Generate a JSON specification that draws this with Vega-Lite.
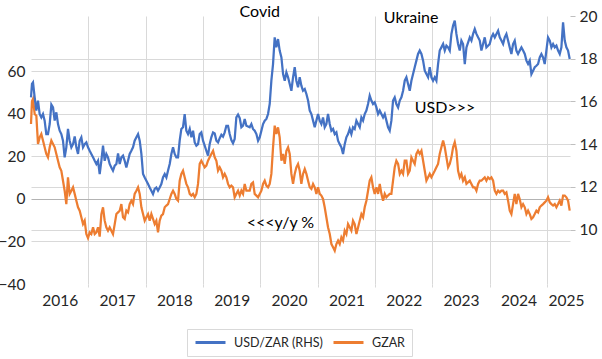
{
"$schema": "https://vega.github.io/schema/vega-lite/v6.json",
"width": 539, "height": 268,
"autosize": {"type": "none"},
"padding": {"left": 31, "top": 16, "right": 32, "bottom": 75},
"background": "white",
"config": {"view": {"stroke": null}, "font": "Lato", "text": {"font": "Lato"}},
"data": {"values": [
{"t":2016.000,"u":16.19,"g":35.3},{"t":2016.017,"u":16.82,"g":46.0},{"t":2016.035,"u":16.89,"g":47.1},{"t":2016.064,"u":16.19,"g":40.0},{"t":2016.093,"u":15.57,"g":39.2},{"t":2016.122,"u":16.04,"g":25.9},{"t":2016.151,"u":15.41,"g":29.0},{"t":2016.180,"u":15.25,"g":30.6},{"t":2016.209,"u":15.41,"g":27.5},{"t":2016.238,"u":15.10,"g":24.3},
{"t":2016.267,"u":14.47,"g":21.2},{"t":2016.296,"u":14.47,"g":19.6},{"t":2016.326,"u":14.94,"g":24.3},{"t":2016.355,"u":15.85,"g":27.5},{"t":2016.384,"u":15.72,"g":25.9},{"t":2016.413,"u":15.10,"g":24.3},{"t":2016.442,"u":15.49,"g":21.2},{"t":2016.471,"u":14.94,"g":18.0},{"t":2016.500,"u":14.63,"g":14.9},{"t":2016.529,"u":14.47,"g":13.3},
{"t":2016.558,"u":14.16,"g":8.6},{"t":2016.587,"u":13.38,"g":3.9},{"t":2016.616,"u":13.85,"g":-2.4},{"t":2016.645,"u":14.71,"g":10.2},{"t":2016.674,"u":14.16,"g":2.4},{"t":2016.704,"u":13.85,"g":3.9},{"t":2016.733,"u":14.00,"g":5.5},{"t":2016.762,"u":14.36,"g":2.4},{"t":2016.791,"u":13.85,"g":-0.8},{"t":2016.820,"u":13.54,"g":-3.9},
{"t":2016.849,"u":14.16,"g":-5.5},{"t":2016.878,"u":14.32,"g":-8.6},{"t":2016.907,"u":13.85,"g":-11.8},{"t":2016.936,"u":14.00,"g":-10.2},{"t":2016.965,"u":14.08,"g":-16.5},{"t":2016.994,"u":13.85,"g":-18.4},{"t":2017.023,"u":13.69,"g":-15.7},{"t":2017.052,"u":13.54,"g":-16.5},{"t":2017.082,"u":13.38,"g":-13.3},{"t":2017.111,"u":13.22,"g":-16.5},
{"t":2017.140,"u":13.07,"g":-15.7},{"t":2017.169,"u":13.22,"g":-13.3},{"t":2017.198,"u":12.60,"g":-17.7},{"t":2017.227,"u":13.22,"g":-7.1},{"t":2017.256,"u":13.93,"g":-3.9},{"t":2017.285,"u":13.22,"g":-10.2},{"t":2017.314,"u":13.54,"g":-13.3},{"t":2017.343,"u":13.38,"g":-14.9},{"t":2017.372,"u":13.07,"g":-13.3},{"t":2017.401,"u":12.91,"g":-14.9},
{"t":2017.430,"u":12.76,"g":-16.5},{"t":2017.460,"u":12.99,"g":-11.8},{"t":2017.489,"u":13.07,"g":-7.1},{"t":2017.518,"u":13.57,"g":-6.3},{"t":2017.547,"u":13.07,"g":-5.5},{"t":2017.576,"u":13.38,"g":-2.4},{"t":2017.605,"u":13.46,"g":-8.6},{"t":2017.634,"u":13.22,"g":-9.4},{"t":2017.663,"u":12.91,"g":-5.5},{"t":2017.692,"u":13.22,"g":-6.3},
{"t":2017.721,"u":13.54,"g":-2.4},{"t":2017.750,"u":13.69,"g":-0.8},{"t":2017.779,"u":13.85,"g":-2.4},{"t":2017.808,"u":14.16,"g":2.4},{"t":2017.838,"u":14.32,"g":3.9},{"t":2017.867,"u":14.47,"g":5.5},{"t":2017.896,"u":14.16,"g":2.4},
{"t":2017.925,"u":13.54,"g":-3.9},{"t":2017.954,"u":12.60,"g":-7.1},{"t":2017.983,"u":12.44,"g":-10.2},{"t":2018.012,"u":12.29,"g":-8.6},{"t":2018.041,"u":12.13,"g":-7.1},{"t":2018.070,"u":11.97,"g":-10.2},{"t":2018.099,"u":11.82,"g":-7.1},{"t":2018.128,"u":11.66,"g":-9.4},{"t":2018.157,"u":11.90,"g":-11.8},{"t":2018.186,"u":11.97,"g":-10.2},
{"t":2018.215,"u":11.82,"g":-15.7},{"t":2018.244,"u":11.97,"g":-10.2},{"t":2018.273,"u":12.13,"g":-7.8},{"t":2018.302,"u":12.44,"g":-7.1},{"t":2018.332,"u":12.60,"g":-3.9},{"t":2018.361,"u":12.44,"g":-3.1},{"t":2018.390,"u":12.76,"g":-2.4},{"t":2018.419,"u":13.07,"g":0.0},{"t":2018.448,"u":13.54,"g":2.4},{"t":2018.477,"u":13.85,"g":3.9},
{"t":2018.506,"u":13.54,"g":2.4},{"t":2018.535,"u":13.38,"g":0.0},{"t":2018.564,"u":13.38,"g":-0.8},{"t":2018.593,"u":14.16,"g":8.6},{"t":2018.622,"u":14.71,"g":11.8},{"t":2018.651,"u":14.79,"g":13.3},{"t":2018.680,"u":15.41,"g":10.2},{"t":2018.709,"u":14.63,"g":7.1},{"t":2018.738,"u":14.47,"g":5.5},{"t":2018.768,"u":14.71,"g":2.4},
{"t":2018.797,"u":14.32,"g":1.6},{"t":2018.826,"u":14.63,"g":2.4},{"t":2018.855,"u":14.08,"g":0.8},{"t":2018.884,"u":13.93,"g":2.4},{"t":2018.913,"u":14.00,"g":7.1},{"t":2018.942,"u":14.47,"g":16.5},{"t":2018.971,"u":14.55,"g":18.0},{"t":2019.000,"u":14.16,"g":16.5},{"t":2019.029,"u":13.93,"g":14.9},{"t":2019.058,"u":13.69,"g":15.7},
{"t":2019.087,"u":13.46,"g":18.0},{"t":2019.116,"u":14.00,"g":19.6},{"t":2019.145,"u":14.32,"g":21.2},{"t":2019.175,"u":14.55,"g":22.7},{"t":2019.204,"u":14.50,"g":19.6},{"t":2019.233,"u":14.16,"g":18.0},{"t":2019.262,"u":14.08,"g":13.3},{"t":2019.291,"u":14.28,"g":14.9},{"t":2019.320,"u":14.44,"g":13.3},{"t":2019.349,"u":14.35,"g":10.2},
{"t":2019.378,"u":14.55,"g":11.8},{"t":2019.407,"u":14.86,"g":10.2},{"t":2019.436,"u":14.86,"g":7.1},{"t":2019.465,"u":14.47,"g":5.5},{"t":2019.494,"u":14.19,"g":6.3},{"t":2019.523,"u":14.04,"g":5.5},{"t":2019.552,"u":14.24,"g":0.8},{"t":2019.581,"u":15.25,"g":2.4},{"t":2019.611,"u":15.38,"g":3.9},{"t":2019.640,"u":15.22,"g":1.6},
{"t":2019.669,"u":14.79,"g":3.9},{"t":2019.698,"u":14.86,"g":2.4},{"t":2019.727,"u":15.18,"g":7.1},{"t":2019.756,"u":14.86,"g":3.9},
{"t":2019.814,"u":14.79,"g":3.9},{"t":2019.843,"u":14.94,"g":7.1},{"t":2019.872,"u":14.71,"g":7.8},{"t":2019.901,"u":14.63,"g":2.4},{"t":2019.931,"u":14.47,"g":1.6},{"t":2019.960,"u":14.16,"g":0.8},{"t":2019.989,"u":14.32,"g":2.4},{"t":2020.018,"u":14.63,"g":3.9},{"t":2020.047,"u":14.94,"g":7.1},{"t":2020.076,"u":15.10,"g":8.6},
{"t":2020.105,"u":15.18,"g":6.3},{"t":2020.134,"u":15.41,"g":5.5},{"t":2020.163,"u":15.88,"g":7.1},{"t":2020.192,"u":16.97,"g":11.8},{"t":2020.221,"u":17.75,"g":24.3},{"t":2020.250,"u":19.00,"g":34.5},{"t":2020.279,"u":18.53,"g":30.6},{"t":2020.308,"u":18.92,"g":33.7},{"t":2020.337,"u":18.38,"g":29.0},{"t":2020.367,"u":18.06,"g":18.0},
{"t":2020.396,"u":17.28,"g":21.2},{"t":2020.425,"u":16.97,"g":16.5},{"t":2020.454,"u":17.36,"g":22.7},{"t":2020.483,"u":17.13,"g":24.3},{"t":2020.512,"u":16.82,"g":21.2},{"t":2020.541,"u":16.50,"g":11.8},{"t":2020.570,"u":17.13,"g":7.1},{"t":2020.599,"u":17.60,"g":11.8},{"t":2020.628,"u":16.97,"g":14.9},{"t":2020.657,"u":16.66,"g":16.5},
{"t":2020.686,"u":17.13,"g":13.3},{"t":2020.715,"u":16.74,"g":7.1},{"t":2020.744,"u":16.50,"g":11.8},{"t":2020.774,"u":16.58,"g":14.1},{"t":2020.803,"u":16.35,"g":11.8},{"t":2020.832,"u":16.04,"g":8.6},{"t":2020.861,"u":15.57,"g":5.5},{"t":2020.890,"u":15.41,"g":4.7},{"t":2020.919,"u":15.10,"g":7.1},{"t":2020.948,"u":14.79,"g":5.5},
{"t":2020.977,"u":15.10,"g":2.4},{"t":2021.006,"u":15.41,"g":5.5},{"t":2021.035,"u":15.10,"g":2.4},{"t":2021.064,"u":14.94,"g":1.6},{"t":2021.093,"u":15.25,"g":0.0},{"t":2021.122,"u":14.79,"g":-3.9},{"t":2021.151,"u":14.94,"g":-8.6},{"t":2021.180,"u":15.41,"g":-13.3},{"t":2021.210,"u":14.94,"g":-16.5},{"t":2021.239,"u":14.63,"g":-21.2},
{"t":2021.268,"u":14.71,"g":-22.7},{"t":2021.297,"u":14.47,"g":-24.3},{"t":2021.326,"u":14.55,"g":-21.2},{"t":2021.355,"u":14.16,"g":-19.6},{"t":2021.384,"u":14.00,"g":-21.2},{"t":2021.413,"u":13.85,"g":-18.0},{"t":2021.442,"u":13.54,"g":-19.6},{"t":2021.471,"u":14.00,"g":-14.9},{"t":2021.500,"u":14.32,"g":-16.5},{"t":2021.529,"u":14.47,"g":-11.8},
{"t":2021.558,"u":14.71,"g":-13.3},{"t":2021.587,"u":14.47,"g":-14.9},{"t":2021.616,"u":14.79,"g":-10.2},{"t":2021.645,"u":14.71,"g":-11.8},{"t":2021.675,"u":15.10,"g":-16.5},
{"t":2021.733,"u":14.79,"g":-10.2},{"t":2021.762,"u":15.25,"g":-7.1},{"t":2021.791,"u":15.10,"g":-8.6},{"t":2021.820,"u":15.41,"g":-3.9},{"t":2021.849,"u":15.57,"g":-0.8},{"t":2021.878,"u":15.88,"g":3.9},{"t":2021.907,"u":16.27,"g":8.6},{"t":2021.936,"u":16.04,"g":10.2},{"t":2021.965,"u":15.88,"g":5.5},{"t":2021.994,"u":15.96,"g":2.4},
{"t":2022.024,"u":15.72,"g":5.5},{"t":2022.053,"u":15.41,"g":2.4},{"t":2022.082,"u":15.57,"g":7.1},{"t":2022.111,"u":15.41,"g":2.4},{"t":2022.140,"u":15.25,"g":-0.8},{"t":2022.169,"u":15.41,"g":2.4},{"t":2022.198,"u":15.10,"g":0.8},{"t":2022.227,"u":14.79,"g":1.6},{"t":2022.256,"u":14.63,"g":2.4},{"t":2022.285,"u":15.10,"g":2.4},
{"t":2022.314,"u":16.04,"g":8.6},{"t":2022.343,"u":16.19,"g":14.9},{"t":2022.372,"u":15.88,"g":18.0},{"t":2022.402,"u":15.72,"g":16.5},{"t":2022.431,"u":16.04,"g":11.8},{"t":2022.460,"u":16.19,"g":13.3},{"t":2022.489,"u":16.50,"g":11.8},{"t":2022.518,"u":16.97,"g":18.0},{"t":2022.547,"u":17.13,"g":18.0},{"t":2022.576,"u":16.82,"g":11.8},
{"t":2022.605,"u":16.50,"g":13.3},{"t":2022.634,"u":16.97,"g":19.6},{"t":2022.663,"u":17.28,"g":18.0},{"t":2022.692,"u":17.60,"g":16.5},{"t":2022.721,"u":17.91,"g":21.2},{"t":2022.750,"u":18.22,"g":22.7},{"t":2022.779,"u":18.38,"g":21.2},{"t":2022.809,"u":18.22,"g":22.7},{"t":2022.838,"u":17.91,"g":18.0},{"t":2022.867,"u":17.44,"g":13.3},
{"t":2022.896,"u":17.28,"g":8.6},{"t":2022.925,"u":17.13,"g":10.2},{"t":2022.954,"u":17.60,"g":11.8},{"t":2022.983,"u":17.13,"g":10.2},{"t":2023.012,"u":16.97,"g":11.8},{"t":2023.041,"u":17.13,"g":13.3},{"t":2023.070,"u":16.97,"g":14.9},{"t":2023.099,"u":17.75,"g":16.5},{"t":2023.128,"u":18.38,"g":21.2},{"t":2023.157,"u":18.53,"g":24.3},
{"t":2023.187,"u":18.69,"g":27.5},{"t":2023.216,"u":18.38,"g":24.3},{"t":2023.245,"u":18.61,"g":19.6},{"t":2023.274,"u":18.53,"g":14.9},{"t":2023.303,"u":18.38,"g":16.5},{"t":2023.332,"u":19.16,"g":19.6},{"t":2023.361,"u":19.55,"g":24.3},{"t":2023.390,"u":19.78,"g":26.7},{"t":2023.419,"u":19.16,"g":22.7},{"t":2023.448,"u":18.69,"g":13.3},
{"t":2023.477,"u":18.38,"g":10.2},{"t":2023.506,"u":18.85,"g":11.8},{"t":2023.535,"u":18.69,"g":8.6},{"t":2023.565,"u":17.75,"g":10.2},{"t":2023.594,"u":18.53,"g":7.1},
{"t":2023.652,"u":19.00,"g":8.6},{"t":2023.681,"u":18.85,"g":7.1},{"t":2023.710,"u":19.16,"g":5.5},{"t":2023.739,"u":19.39,"g":5.5},{"t":2023.768,"u":19.16,"g":3.9},{"t":2023.797,"u":19.00,"g":7.1},{"t":2023.826,"u":18.85,"g":8.6},{"t":2023.855,"u":18.38,"g":8.6},{"t":2023.884,"u":18.69,"g":9.4},{"t":2023.913,"u":19.00,"g":10.2},
{"t":2023.942,"u":18.53,"g":8.6},{"t":2023.971,"u":18.61,"g":10.2},{"t":2024.000,"u":18.69,"g":9.4},{"t":2024.029,"u":19.00,"g":10.2},{"t":2024.059,"u":19.16,"g":8.6},{"t":2024.088,"u":19.00,"g":3.9},{"t":2024.117,"u":19.16,"g":2.4},{"t":2024.146,"u":19.31,"g":3.9},{"t":2024.175,"u":19.00,"g":3.1},{"t":2024.204,"u":18.85,"g":3.9},
{"t":2024.233,"u":18.69,"g":3.9},{"t":2024.262,"u":19.00,"g":2.4},{"t":2024.291,"u":19.16,"g":3.1},{"t":2024.320,"u":18.85,"g":-0.8},{"t":2024.349,"u":18.53,"g":-5.5},{"t":2024.378,"u":18.22,"g":-7.1},{"t":2024.407,"u":18.69,"g":-2.4},{"t":2024.436,"u":18.85,"g":2.4},{"t":2024.465,"u":18.38,"g":-2.4},{"t":2024.494,"u":18.22,"g":2.4},
{"t":2024.523,"u":18.38,"g":0.0},{"t":2024.553,"u":18.53,"g":-3.9},{"t":2024.582,"u":18.38,"g":-2.4},{"t":2024.611,"u":18.22,"g":-3.9},{"t":2024.640,"u":17.91,"g":-7.1},{"t":2024.669,"u":17.75,"g":-5.5},{"t":2024.698,"u":17.91,"g":-7.1},{"t":2024.727,"u":17.28,"g":-9.4},{"t":2024.756,"u":17.44,"g":-8.6},{"t":2024.785,"u":17.60,"g":-7.1},
{"t":2024.814,"u":17.67,"g":-5.5},{"t":2024.843,"u":17.75,"g":-6.3},{"t":2024.872,"u":18.06,"g":-3.9},{"t":2024.901,"u":18.22,"g":-3.1},{"t":2024.930,"u":18.06,"g":-2.4},{"t":2024.959,"u":17.75,"g":-1.6},{"t":2024.988,"u":18.38,"g":-0.8},{"t":2025.017,"u":19.00,"g":0.8},{"t":2025.047,"u":18.85,"g":-1.6},{"t":2025.076,"u":18.53,"g":-2.4},
{"t":2025.105,"u":18.69,"g":-3.1},{"t":2025.134,"u":18.53,"g":-2.4},{"t":2025.163,"u":18.61,"g":-3.9},{"t":2025.192,"u":18.38,"g":-2.4},{"t":2025.221,"u":18.22,"g":-0.8},{"t":2025.250,"u":18.53,"g":-3.1},{"t":2025.279,"u":19.70,"g":1.6},{"t":2025.308,"u":18.85,"g":1.6},{"t":2025.337,"u":18.53,"g":0.8},{"t":2025.366,"u":18.38,"g":-0.8},
{"t":2025.395,"u":17.99,"g":-5.5}
]},
"encoding": {
  "x": {"field": "t", "type": "quantitative", "scale": {"domain": [2016, 2025.4], "nice": false, "zero": false},
    "axis": {"values": [2016,2017,2018,2019,2020,2021,2022,2023,2024,2025], "format": "d", "title": null, "domain": false,
      "grid": true, "gridColor": "#D9D9D9", "gridWidth": 1,
      "gridOpacity": {"condition": {"test": "datum.value == 2016", "value": 0}, "value": 1},
      "ticks": true, "tickSize": 3, "tickColor": "#D9D9D9",
      "tickOpacity": {"condition": {"test": "datum.value == 2016", "value": 0}, "value": 1},
      "labelOffset": {"condition": {"test": "datum.value == 2025", "value": 19}, "value": 28.7},
      "labelPadding": 6, "labelFont": "Lato", "labelFontSize": 15.5, "labelColor": "#262626",
      "labelFlush": false, "labelOverlap": false, "labelBound": false}}
},
"layer": [
  {"mark": {"type": "line", "strokeWidth": 2.25},
   "encoding": {
     "y": {"field": "g", "type": "quantitative", "scale": {"domain": [-40, 86.1], "nice": false, "zero": false},
       "axis": {"orient": "left", "values": [-40,-20,0,20,40,60], "title": null, "domain": false, "ticks": false,
         "grid": true,
         "gridColor": {"condition": {"test": "datum.value == 0", "value": "#B3B3B3"}, "value": "#D9D9D9"},
         "gridOpacity": {"condition": {"test": "datum.value == -40", "value": 0}, "value": 1},
         "labelPadding": 6, "labelFont": "Lato", "labelFontSize": 15.5, "labelColor": "#262626"}},
     "color": {"datum": "GZAR", "type": "nominal",
       "scale": {"domain": ["USD/ZAR (RHS)", "GZAR"], "range": ["#4472C4", "#ED7D31"]},
       "legend": {"title": null, "orient": "none", "legendX": 156, "legendY": 313, "direction": "horizontal",
         "strokeColor": "#D9D9D9", "padding": 7, "symbolType": "M-3,0H3", "symbolSize": 100, "symbolOffset": 10, "symbolStrokeWidth": 3,
         "labelFont": "Lato", "labelFontSize": 12.5, "labelColor": "#262626", "labelOffset": 17, "columnPadding": 4}}
   }},
  {"mark": {"type": "line", "strokeWidth": 2.25},
   "encoding": {
     "y": {"field": "u", "type": "quantitative", "scale": {"domain": [7.45, 20], "nice": false, "zero": false},
       "axis": {"orient": "right", "values": [10,12,14,16,18,20], "title": null, "domain": false,
         "ticks": true, "tickSize": 5, "tickColor": "#BFBFBF",
         "grid": true, "gridColor": "#D9D9D9",
         "gridOpacity": {"condition": {"test": "datum.value == 20", "value": 0}, "value": 1},
         "labelPadding": 4, "labelFont": "Lato", "labelFontSize": 15.5, "labelColor": "#262626"}},
     "color": {"datum": "USD/ZAR (RHS)", "type": "nominal"}
   }},
  {"data": {"values": [
      {"t": 2019.99, "v": 20.19, "label": "Covid"},
      {"t": 2022.63, "v": 19.91, "label": "Ukraine"},
      {"t": 2023.22, "v": 15.69, "label": "USD>>>"}
    ]},
   "mark": {"type": "text", "font": "Lato", "fontSize": 16, "color": "#000000", "align": "center", "baseline": "middle"},
   "encoding": {
     "y": {"field": "v", "type": "quantitative", "scale": {"domain": [7.45, 20], "nice": false, "zero": false}, "axis": null},
     "text": {"field": "label"}
   }},
  {"data": {"values": [
      {"t": 2020.35, "v": -11.3, "label": "<<<y/y %"}
    ]},
   "mark": {"type": "text", "font": "Lato", "fontSize": 16, "color": "#000000", "align": "center", "baseline": "middle"},
   "encoding": {
     "y": {"field": "v", "type": "quantitative", "scale": {"domain": [-40, 86.1], "nice": false, "zero": false}, "axis": null},
     "text": {"field": "label"}
   }}
],
"resolve": {"scale": {"y": "independent"}}
}
